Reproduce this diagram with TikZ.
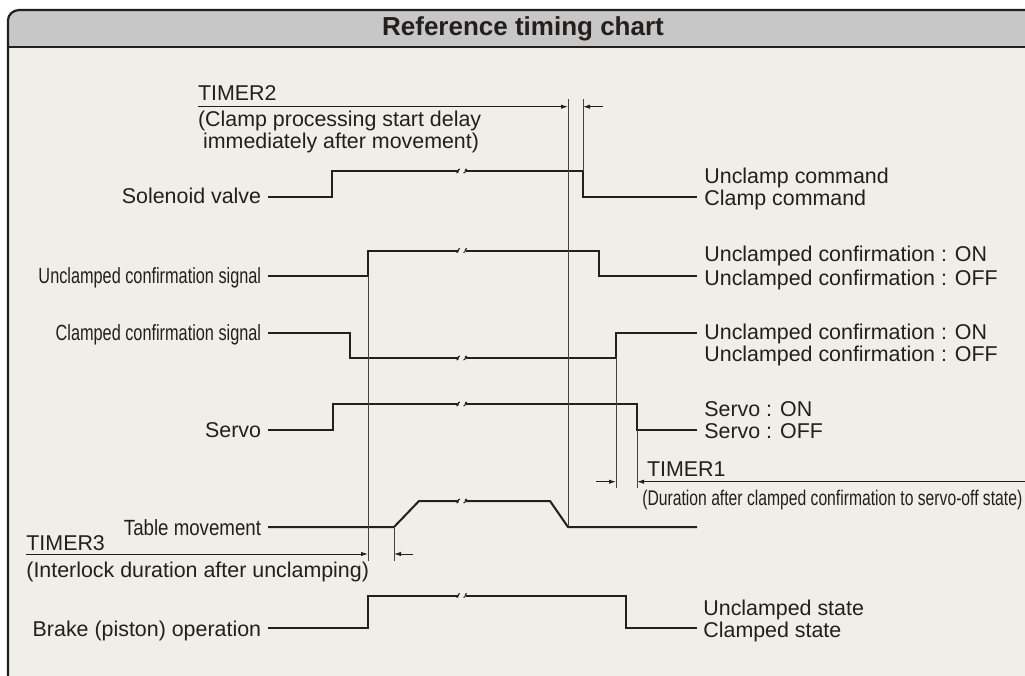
\documentclass[tikz,border=0pt]{standalone}
\usepackage{fontspec}
\setmainfont{Liberation Sans}
\newfontfamily\narrowfont[FakeStretch=0.74]{Liberation Sans}
\newfontfamily\semifont[FakeStretch=0.85]{Liberation Sans}
\usetikzlibrary{arrows.meta}
\definecolor{ink}{HTML}{231F1C}
\definecolor{paper}{HTML}{EFEEE7}
\definecolor{band}{HTML}{C7C7C7}
% gap with two small S-ticks on a level line at height #1
\newcommand{\wavebreak}[1]{%
  \fill[paper] (457.5,#1-3) rectangle (466,#1+3);
  \draw[brkmark] (456.5,#1+2) .. controls (459.5,#1+2) and (457,#1-2) .. (460,#1-2);
  \draw[brkmark] (463.5,#1+2) .. controls (466.5,#1+2) and (464,#1-2) .. (467,#1-2);
}

\begin{document}
\begin{tikzpicture}[x=0.5pt, y=-0.5pt,
  every node/.style = {font=\fontsize{10.7}{12}\selectfont, text=ink, inner sep=0pt},
  lab/.style    = {anchor=base east},
  nlab/.style   = {anchor=base east, font=\narrowfont\fontsize{11}{12}\selectfont},
  rlab/.style   = {anchor=base west},
  frame/.style  = {draw=ink, line width=1.1pt},
  wave/.style   = {draw=ink, line width=1pt},
  guide/.style  = {draw=ink!85, line width=0.45pt},
  dim/.style    = {draw=ink, line width=0.45pt, -{Latex[length=3.5pt,width=2.2pt]}},
  brkmark/.style= {draw=ink, line width=0.5pt},
]
  \useasboundingbox (0,0) rectangle (1025,676);

  % panel and header
  \fill[paper] (8,47) rectangle (1025,676);
  \fill[band] (8,47) -- (8,20) .. controls (8,14.5) and (13.5,10) .. (19,10)
    -- (1025,10) -- (1025,47) -- cycle;
  \draw[frame] (8,676) -- (8,20) .. controls (8,14.5) and (13.5,10) .. (19,10)
    -- (1025,10);
  \draw[frame] (8,47) -- (1025,47);
  \node[font=\bfseries\fontsize{13}{14}\selectfont] (title) at (523,29)
    {Reference timing chart};

  % signal names
  \node[lab]  (sol)   at (261.5,203)   {Solenoid valve};
  \node[nlab] (uncs)  at (261.5,283.3) {Unclamped confirmation signal};
  \node[nlab] (clps)  at (261.5,340)   {Clamped confirmation signal};
  \node[lab]  (servo) at (261.5,437.3) {Servo};
  \node[nlab, font=\semifont\fontsize{11}{12}\selectfont] (table) at (261.5,535)
    {Table movement};
  \node[lab]  (brake) at (261.5,636)   {Brake (piston) operation};

  % state names
  \node[rlab] (solH) at (704,183.3) {Unclamp command};
  \node[rlab] (solL) at (704,205)   {Clamp command};
  \node[rlab] (uncH) at (704,261.7) {Unclamped confirmation : ON};
  \node[rlab] (uncL) at (704,285)   {Unclamped confirmation : OFF};
  \node[rlab] (clpH) at (704,339.3) {Unclamped confirmation : ON};
  \node[rlab] (clpL) at (704,361.7) {Unclamped confirmation : OFF};
  \node[rlab] (srvH) at (704,416)   {Servo : ON};
  \node[rlab] (srvL) at (704,438.3) {Servo : OFF};
  \node[rlab] (brkH) at (703,615)   {Unclamped state};
  \node[rlab] (brkL) at (703,637.3) {Clamped state};

  % waveforms
  \draw[wave] (268,197) -- (332,197) -- (332,171) -- (583,171) -- (583,197) -- (697,197);
  \draw[wave] (268,276) -- (368,276) -- (368,250.5) -- (599,250.5) -- (599,276) -- (697,276);
  \draw[wave] (268,333) -- (350,333) -- (350,358) -- (616,358) -- (616,333) -- (697,333);
  \draw[wave] (268,430) -- (333,430) -- (333,404) -- (637,404) -- (637,430) -- (697,430);
  \draw[wave] (268,527) -- (394,527) -- (419,501) -- (550,501) -- (568,527) -- (697,527);
  \draw[wave] (268,628) -- (368,628) -- (368,595.5) -- (626,595.5) -- (626,628) -- (697,628);
  \foreach \lvl in {171,250.5,358,404,501,595.5} {\wavebreak{\lvl}}

  % guide lines
  \draw[guide] (568,99) -- (568,527);
  \draw[guide] (583,99) -- (583,171);
  \draw[guide] (368,276) -- (368,561);
  \draw[guide] (394,527) -- (394,561);
  \draw[guide] (616,358) -- (616,488);
  \draw[guide] (637,430) -- (637,488);

  % TIMER2
  \draw[dim] (198,106.7) -- (568,106.7);
  \draw[dim] (603,106.7) -- (583,106.7);
  \node[rlab] (t2)  at (197.7,100)   {TIMER2};
  \node[rlab] (t2a) at (197.7,126.7) {(Clamp processing start delay};
  \node[rlab] (t2b) at (202.7,148)   {immediately after movement)};

  % TIMER1
  \draw[dim] (596,481.7) -- (616,481.7);
  \draw[dim] (1025,481.7) -- (637,481.7);
  \node[rlab] (t1)  at (646.7,476.7) {TIMER1};
  \node[rlab, font=\narrowfont\fontsize{10.6}{12}\selectfont] (t1a) at (642,505)
    {(Duration after clamped confirmation to servo-off state)};

  % TIMER3
  \draw[dim] (26,554) -- (368,554);
  \draw[dim] (413,554) -- (394,554);
  \node[rlab] (t3)  at (26,550)   {TIMER3};
  \node[rlab] (t3a) at (26,577.3) {(Interlock duration after unclamping)};
\end{tikzpicture}
\end{document}
